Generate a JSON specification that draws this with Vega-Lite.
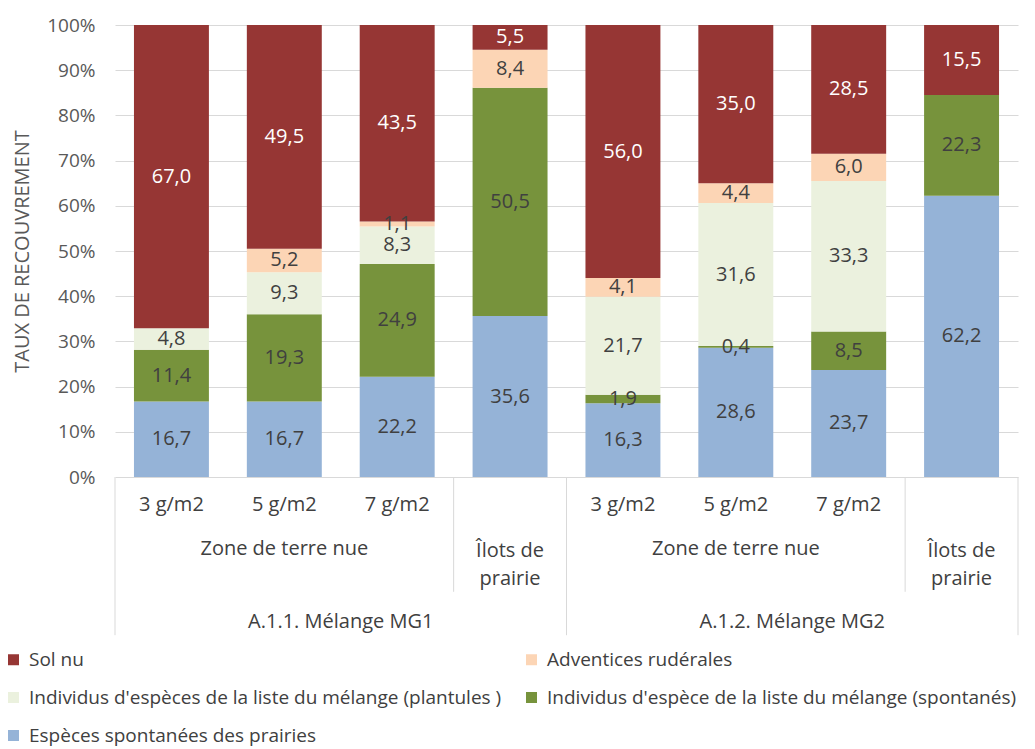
{
  "$schema": "https://vega.github.io/schema/vega-lite/v6.json",
  "width": 903,
  "height": 452,
  "autosize": "none",
  "padding": {"left": 115, "top": 25, "right": 17, "bottom": 272},
  "config": {
    "locale": {"number": {"decimal": ",", "thousands": " ", "grouping": [3], "currency": ["", " €"]}},
    "view": {"stroke": null},
    "font": "Open Sans"
  },
  "datasets": {
    "cover": [
      {"b": "MG1|3 g/m2", "s": "Espèces spontanées des prairies", "k": 1, "v": 16.7},
      {"b": "MG1|3 g/m2", "s": "Individus d'espèce de la liste du mélange (spontanés)", "k": 2, "v": 11.4},
      {"b": "MG1|3 g/m2", "s": "Individus d'espèces de la liste du mélange (plantules )", "k": 3, "v": 4.8},
      {"b": "MG1|3 g/m2", "s": "Sol nu", "k": 5, "v": 67.0},
      {"b": "MG1|5 g/m2", "s": "Espèces spontanées des prairies", "k": 1, "v": 16.7},
      {"b": "MG1|5 g/m2", "s": "Individus d'espèce de la liste du mélange (spontanés)", "k": 2, "v": 19.3},
      {"b": "MG1|5 g/m2", "s": "Individus d'espèces de la liste du mélange (plantules )", "k": 3, "v": 9.3},
      {"b": "MG1|5 g/m2", "s": "Adventices rudérales", "k": 4, "v": 5.2},
      {"b": "MG1|5 g/m2", "s": "Sol nu", "k": 5, "v": 49.5},
      {"b": "MG1|7 g/m2", "s": "Espèces spontanées des prairies", "k": 1, "v": 22.2},
      {"b": "MG1|7 g/m2", "s": "Individus d'espèce de la liste du mélange (spontanés)", "k": 2, "v": 24.9},
      {"b": "MG1|7 g/m2", "s": "Individus d'espèces de la liste du mélange (plantules )", "k": 3, "v": 8.3},
      {"b": "MG1|7 g/m2", "s": "Adventices rudérales", "k": 4, "v": 1.1},
      {"b": "MG1|7 g/m2", "s": "Sol nu", "k": 5, "v": 43.5},
      {"b": "MG1|Îlots de prairie", "s": "Espèces spontanées des prairies", "k": 1, "v": 35.6},
      {"b": "MG1|Îlots de prairie", "s": "Individus d'espèce de la liste du mélange (spontanés)", "k": 2, "v": 50.5},
      {"b": "MG1|Îlots de prairie", "s": "Adventices rudérales", "k": 4, "v": 8.4},
      {"b": "MG1|Îlots de prairie", "s": "Sol nu", "k": 5, "v": 5.5},
      {"b": "MG2|3 g/m2", "s": "Espèces spontanées des prairies", "k": 1, "v": 16.3},
      {"b": "MG2|3 g/m2", "s": "Individus d'espèce de la liste du mélange (spontanés)", "k": 2, "v": 1.9},
      {"b": "MG2|3 g/m2", "s": "Individus d'espèces de la liste du mélange (plantules )", "k": 3, "v": 21.7},
      {"b": "MG2|3 g/m2", "s": "Adventices rudérales", "k": 4, "v": 4.1},
      {"b": "MG2|3 g/m2", "s": "Sol nu", "k": 5, "v": 56.0},
      {"b": "MG2|5 g/m2", "s": "Espèces spontanées des prairies", "k": 1, "v": 28.6},
      {"b": "MG2|5 g/m2", "s": "Individus d'espèce de la liste du mélange (spontanés)", "k": 2, "v": 0.4},
      {"b": "MG2|5 g/m2", "s": "Individus d'espèces de la liste du mélange (plantules )", "k": 3, "v": 31.6},
      {"b": "MG2|5 g/m2", "s": "Adventices rudérales", "k": 4, "v": 4.4},
      {"b": "MG2|5 g/m2", "s": "Sol nu", "k": 5, "v": 35.0},
      {"b": "MG2|7 g/m2", "s": "Espèces spontanées des prairies", "k": 1, "v": 23.7},
      {"b": "MG2|7 g/m2", "s": "Individus d'espèce de la liste du mélange (spontanés)", "k": 2, "v": 8.5},
      {"b": "MG2|7 g/m2", "s": "Individus d'espèces de la liste du mélange (plantules )", "k": 3, "v": 33.3},
      {"b": "MG2|7 g/m2", "s": "Adventices rudérales", "k": 4, "v": 6.0},
      {"b": "MG2|7 g/m2", "s": "Sol nu", "k": 5, "v": 28.5},
      {"b": "MG2|Îlots de prairie", "s": "Espèces spontanées des prairies", "k": 1, "v": 62.2},
      {"b": "MG2|Îlots de prairie", "s": "Individus d'espèce de la liste du mélange (spontanés)", "k": 2, "v": 22.3},
      {"b": "MG2|Îlots de prairie", "s": "Sol nu", "k": 5, "v": 15.5}
    ]
  },
  "resolve": {"scale": {"x": "independent"}},
  "layer": [
    {
      "data": {"name": "cover"},
      "layer": [
        {
          "mark": {"type": "bar"},
          "encoding": {
            "x": {
              "field": "b", "type": "nominal",
              "scale": {
                "domain": ["MG1|3 g/m2", "MG1|5 g/m2", "MG1|7 g/m2", "MG1|Îlots de prairie", "MG2|3 g/m2", "MG2|5 g/m2", "MG2|7 g/m2", "MG2|Îlots de prairie"],
                "paddingInner": 0.336, "paddingOuter": 0.168
              },
              "axis": {
                "title": null,
                "labelExpr": "indexof(datum.label, 'Îlots') >= 0 ? '' : split(datum.label, '|')[1]",
                "labelAngle": 0, "ticks": false, "domain": false, "grid": false,
                "labelPadding": 17, "labelFontSize": 20, "labelColor": "#404040", "labelFont": "Open Sans"
              }
            },
            "y": {
              "field": "v", "type": "quantitative", "stack": "normalize",
              "scale": {"domain": [0, 1], "nice": false},
              "axis": {
                "title": "TAUX DE RECOUVREMENT",
                "format": ".0%",
                "values": [0, 0.1, 0.2, 0.3, 0.4, 0.5, 0.6, 0.7, 0.8, 0.9, 1],
                "grid": true, "gridColor": "#d9d9d9", "domain": false, "ticks": false,
                "labelPadding": 20, "labelFontSize": 19, "labelColor": "#595959", "labelFont": "Open Sans",
                "titleFontSize": 20, "titleFontWeight": "normal", "titleColor": "#595959", "titleFont": "Open Sans",
                "titlePadding": 14
              }
            },
            "color": {
              "field": "s", "type": "nominal",
              "scale": {
                "domain": ["Sol nu", "Adventices rudérales", "Individus d'espèces de la liste du mélange (plantules )", "Individus d'espèce de la liste du mélange (spontanés)", "Espèces spontanées des prairies"],
                "range": ["#963634", "#fcd5b5", "#ebf1de", "#77933c", "#95b3d7"]
              },
              "legend": {
                "title": null, "orient": "none", "legendX": -111, "legendY": 625,
                "direction": "horizontal",
                "columns": 2, "symbolType": "square", "symbolSize": 121, "symbolStrokeWidth": 0,
                "labelFontSize": 19, "labelColor": "#404040", "labelFont": "Open Sans",
                "rowPadding": 18, "columnPadding": 20, "labelOffset": 6, "labelLimit": 700
              }
            },
            "order": {"field": "k", "type": "quantitative"}
          }
        },
        {
          "mark": {"type": "text", "fontSize": 20, "font": "Open Sans"},
          "encoding": {
            "x": {"field": "b", "type": "nominal"},
            "y": {"field": "v", "type": "quantitative", "stack": "normalize", "bandPosition": 0.5},
            "detail": {"field": "s"},
            "order": {"field": "k", "type": "quantitative"},
            "text": {"field": "v", "type": "quantitative", "format": ".1f"},
            "color": {"condition": {"test": "datum.s === 'Sol nu'", "value": "#ffffff"}, "value": "#404040"}
          }
        },
        {
          "data": {"values": [{"b": "MG1|5 g/m2"}, {"b": "MG2|5 g/m2"}]},
          "mark": {"type": "text", "text": "Zone de terre nue", "fontSize": 20, "color": "#404040", "font": "Open Sans", "baseline": "middle"},
          "encoding": {
            "x": {"field": "b", "type": "nominal"},
            "y": {"datum": -0.16, "type": "quantitative"}
          }
        },
        {
          "data": {"values": [{"b": "MG1|Îlots de prairie"}, {"b": "MG2|Îlots de prairie"}]},
          "mark": {"type": "text", "text": ["Îlots de", "prairie"], "lineHeight": 28, "fontSize": 20, "color": "#404040", "font": "Open Sans", "baseline": "middle"},
          "encoding": {
            "x": {"field": "b", "type": "nominal"},
            "y": {"datum": -0.163, "type": "quantitative"}
          }
        }
      ]
    },
    {
      "data": {"values": [{"g": "A.1.1. Mélange MG1"}, {"g": "A.1.2. Mélange MG2"}]},
      "mark": {"type": "text", "fontSize": 20, "color": "#404040", "font": "Open Sans", "baseline": "middle"},
      "encoding": {
        "x": {"field": "g", "type": "nominal", "scale": {"type": "band", "paddingInner": 0, "paddingOuter": 0}, "axis": null},
        "y": {"datum": -0.32, "type": "quantitative"},
        "text": {"field": "g"}
      }
    },
    {
      "data": {"values": [{}]},
      "mark": {"type": "rule", "color": "#d9d9d9", "strokeWidth": 1},
      "encoding": {
        "x": {"datum": 0, "type": "quantitative", "scale": {"domain": [0, 8]}, "axis": null},
        "y": {"datum": 0, "type": "quantitative"},
        "y2": {"datum": -0.35}
      }
    },
    {
      "data": {"values": [{}]},
      "mark": {"type": "rule", "color": "#d9d9d9", "strokeWidth": 1},
      "encoding": {
        "x": {"datum": 4, "type": "quantitative", "scale": {"domain": [0, 8]}, "axis": null},
        "y": {"datum": 0, "type": "quantitative"},
        "y2": {"datum": -0.35}
      }
    },
    {
      "data": {"values": [{}]},
      "mark": {"type": "rule", "color": "#d9d9d9", "strokeWidth": 1},
      "encoding": {
        "x": {"datum": 8, "type": "quantitative", "scale": {"domain": [0, 8]}, "axis": null},
        "y": {"datum": 0, "type": "quantitative"},
        "y2": {"datum": -0.35}
      }
    },
    {
      "data": {"values": [{}]},
      "mark": {"type": "rule", "color": "#d9d9d9", "strokeWidth": 1},
      "encoding": {
        "x": {"datum": 3, "type": "quantitative", "scale": {"domain": [0, 8]}, "axis": null},
        "y": {"datum": 0, "type": "quantitative"},
        "y2": {"datum": -0.254}
      }
    },
    {
      "data": {"values": [{}]},
      "mark": {"type": "rule", "color": "#d9d9d9", "strokeWidth": 1},
      "encoding": {
        "x": {"datum": 7, "type": "quantitative", "scale": {"domain": [0, 8]}, "axis": null},
        "y": {"datum": 0, "type": "quantitative"},
        "y2": {"datum": -0.254}
      }
    }
  ]
}
